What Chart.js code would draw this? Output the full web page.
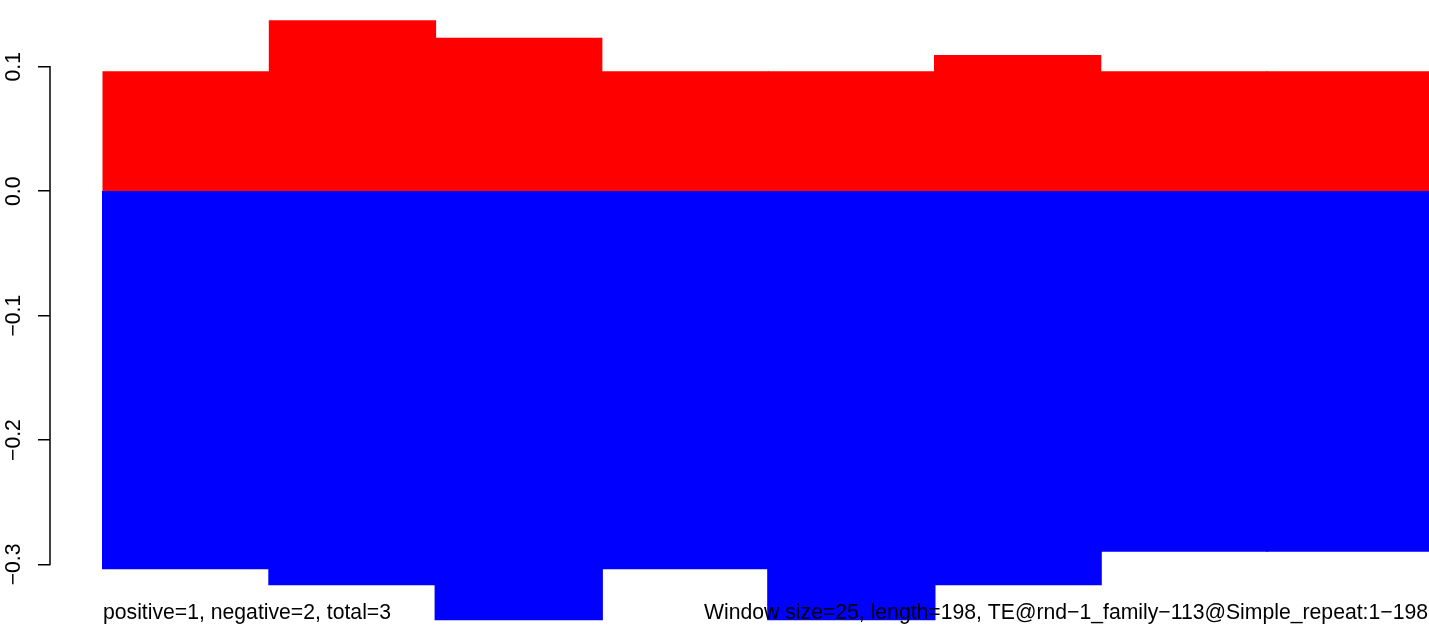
<!DOCTYPE html>
<html><head><meta charset="utf-8">
<script src="https://cdn.jsdelivr.net/npm/chart.js@4.4.1/dist/chart.umd.min.js"></script>
<style>
html,body{margin:0;padding:0;background:#fff;overflow:hidden}
#wrap{position:relative;width:1429px;height:630px}
</style>
</head><body><div id="wrap"><canvas id="c"></canvas></div>
<script>
// ---- data ----
const windows = [1, 2, 3, 4, 5, 6, 7, 8];
const positiveValues = [0.096, 0.137, 0.123, 0.096, 0.096, 0.109, 0.096, 0.096];
const negativeValues = [-0.303, -0.316, -0.344, -0.303, -0.344, -0.316, -0.289, -0.289];
const yTickValues = [-0.3, -0.2, -0.1, 0.0, 0.1];
const yTickLabels = ['\u22120.3', '\u22120.2', '\u22120.1', '0.0', '0.1'];
const captionLeft = 'positive=1, negative=2, total=3';
const captionRight = 'Window size=25, length=198, TE@rnd\u22121_family\u2212113@Simple_repeat:1\u2212198';

const FONT = '"Liberation Sans", Arial, Helvetica, sans-serif';
const FS = 21.2;
Chart.defaults.font.family = FONT;
Chart.defaults.font.size = FS;
Chart.defaults.color = '#000';

const axisLine = {
  id: 'axisLine',
  afterDraw(chart) {
    const ys = chart.scales.y, ctx = chart.ctx;
    const x = ys.right;
    ctx.save();
    ctx.strokeStyle = '#000';
    ctx.lineWidth = 1.5;
    ctx.lineCap = 'square';
    ctx.beginPath();
    ctx.moveTo(x, ys.getPixelForValue(yTickValues[yTickValues.length - 1]));
    ctx.lineTo(x, ys.getPixelForValue(yTickValues[0]));
    ctx.stroke();
    ctx.restore();
  }
};

const captions = {
  id: 'captions',
  afterDraw(chart) {
    const ctx = chart.ctx, xs = chart.scales.x;
    const baseY = chart.height - 11;
    ctx.save();
    ctx.fillStyle = '#000';
    ctx.font = FS + 'px ' + FONT;
    ctx.textBaseline = 'alphabetic';
    ctx.textAlign = 'left';
    ctx.fillText(captionLeft, xs.getPixelForValue(windows[0] - 0.5), baseY);
    ctx.textAlign = 'right';
    ctx.fillText(captionRight, chart.width - 1, baseY);
    ctx.restore();
  }
};

new Chart(document.getElementById('c'), {
  type: 'bar',
  data: {
    datasets: [
      {
        label: 'positive',
        data: windows.map((w, i) => ({ x: w, y: positiveValues[i] })),
        backgroundColor: '#FF0000',
        borderWidth: 0,
        inflateAmount: 0.5,
        categoryPercentage: 1,
        barPercentage: 1
      },
      {
        label: 'negative',
        data: windows.map((w, i) => ({ x: w, y: negativeValues[i] })),
        backgroundColor: '#0000FF',
        borderWidth: 0,
        inflateAmount: 1,
        categoryPercentage: 1,
        barPercentage: 1
      }
    ]
  },
  options: {
    responsive: true,
    maintainAspectRatio: false,
    animation: false,
    events: [],
    layout: { padding: 0 },
    plugins: { legend: { display: false }, tooltip: { enabled: false }, title: { display: false } },
    scales: {
      x: {
        type: 'linear',
        stacked: true,
        offset: false,
        display: false,
        min: 0.1813,
        max: 8.4736,
        afterBuildTicks(s) { s.ticks = windows.map(v => ({ value: v })); }
      },
      y: {
        type: 'linear',
        stacked: true,
        position: 'left',
        min: -0.3527,
        max: 0.1537,
        border: { display: false },
        grid: {
          display: true,
          drawOnChartArea: false,
          drawTicks: true,
          tickLength: 12,
          color: '#000',
          lineWidth: 1.5,
          offset: false
        },
        ticks: {
          minRotation: 90,
          maxRotation: 90,
          crossAlign: 'center',
          padding: 3,
          color: '#000',
          font: { size: FS, family: FONT },
          callback(value, index) { return yTickLabels[index]; }
        },
        afterBuildTicks(s) { s.ticks = yTickValues.map(v => ({ value: v })); },
        afterFit(s) { s.width = 50; s.paddingTop = 0; s.paddingBottom = 0; }
      }
    }
  },
  plugins: [axisLine, captions]
});
</script>
</body></html>
